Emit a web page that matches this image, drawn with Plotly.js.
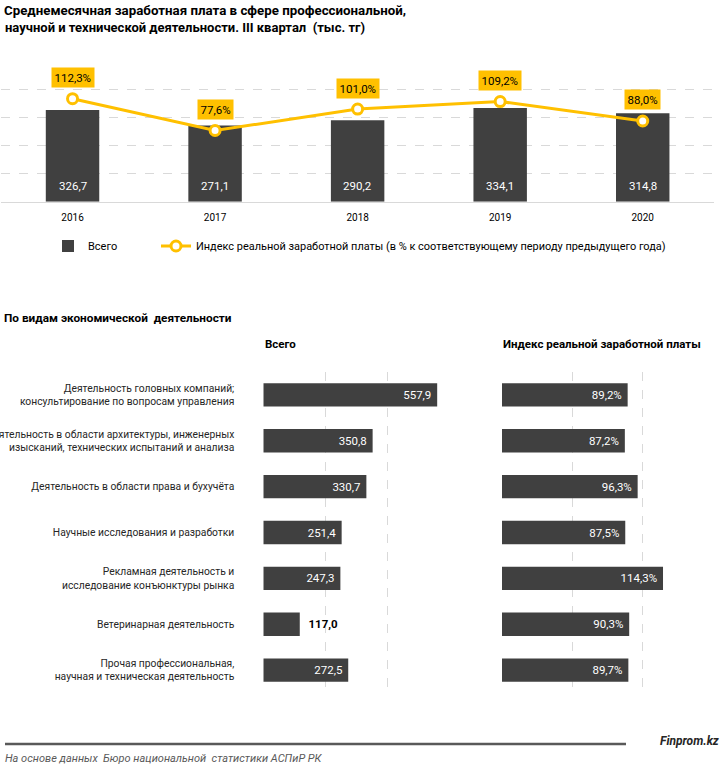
<!DOCTYPE html>
<html>
<head>
<meta charset="utf-8">
<script src="https://cdn.plot.ly/plotly-3.0.1.min.js"></script>
<style>html,body{margin:0;padding:0;background:#fff;overflow:hidden}#chart{width:722px;height:767px}</style>
</head>
<body>
<div id="chart"></div>
<script>
// ---- data ----
const years = ['2016', '2017', '2018', '2019', '2020'];
const totalWage = [326.7, 271.1, 290.2, 334.1, 314.8];
const realIndex = [112.3, 77.6, 101.0, 109.2, 88.0];

const activities = [
  'Деятельность головных компаний;<br>консультирование по вопросам управления',
  'Деятельность в области архитектуры, инженерных<br>изысканий, технических испытаний и анализа',
  'Деятельность в области права и бухучёта',
  'Научные исследования и разработки',
  'Рекламная деятельность и<br>исследование конъюнктуры рынка',
  'Ветеринарная деятельность',
  'Прочая профессиональная,<br>научная и техническая деятельность'
];
const activityWage = [557.9, 350.8, 330.7, 251.4, 247.3, 117.0, 272.5];
const activityIndex = [89.2, 87.2, 96.3, 87.5, 114.3, 90.3, 89.7];

const seriesNames = ['Всего', 'Индекс реальной заработной платы (в % к соответствующему периоду предыдущего года)'];

// ---- helpers ----
const W = 722, H = 767;
const px = v => v / W;
const py = v => 1 - v / H;
const fmt = v => v.toFixed(1).replace('.', ',');
const FONT = 'Roboto, "Liberation Sans", Arial, sans-serif';
const DARK = '#404040';
const YEL = '#FFC000';
const GRID = '#D9D9D9';
const NB = '\u00a0';

const wageOutside = activityWage.map(v => v < 150);

const traces = [
  {
    type: 'bar', name: seriesNames[0], x: years, y: totalWage,
    xaxis: 'x', yaxis: 'y', width: 0.375,
    marker: {color: DARK},
    hoverinfo: 'none', legend: 'legend'
  },
  {
    type: 'scatter', mode: 'lines+markers', name: seriesNames[1], x: years, y: realIndex,
    xaxis: 'x', yaxis: 'y2',
    line: {color: YEL, width: 3},
    marker: {color: '#ffffff', size: 10, line: {color: YEL, width: 3}},
    hoverinfo: 'none', legend: 'legend2'
  },
  {
    type: 'bar', orientation: 'h', x: activityWage, y: activities,
    xaxis: 'x3', yaxis: 'y3', width: 0.51, showlegend: false,
    marker: {color: DARK},
    text: activityWage.map((v, i) => wageOutside[i] ? NB + NB + fmt(v) : fmt(v) + NB),
    textposition: wageOutside.map(o => o ? 'outside' : 'inside'),
    insidetextanchor: 'end',
    insidetextfont: {family: FONT, size: 11.5, color: '#ffffff'},
    outsidetextfont: {family: FONT, size: 11.5, color: '#000000', weight: 'bold'},
    cliponaxis: false, hoverinfo: 'none'
  },
  {
    type: 'bar', orientation: 'h', x: activityIndex, y: activities,
    xaxis: 'x4', yaxis: 'y4', width: 0.51, showlegend: false,
    marker: {color: DARK},
    text: activityIndex.map(v => fmt(v) + '%' + NB),
    textposition: 'inside', insidetextanchor: 'end',
    insidetextfont: {family: FONT, size: 11.5, color: '#ffffff'},
    cliponaxis: false, hoverinfo: 'none'
  }
];

// value labels near the base of the top bars (category axis -> serial index)
const annotations = totalWage.map((v, i) => ({
  x: i, y: 0, xref: 'x', yref: 'y', yanchor: 'bottom', yshift: 7,
  text: fmt(v), showarrow: false,
  font: {family: FONT, size: 11.5, color: '#ffffff'}
}));

// labels above the line points
realIndex.forEach((v, i) => annotations.push({
  x: i, y: v, xref: 'x', yref: 'y2',
  text: fmt(v) + '%', showarrow: false, yshift: 21,
  bgcolor: YEL, borderpad: 2.5,
  font: {family: FONT, size: 11.5, color: '#000000'}
}));

annotations.push(
  {xref: 'paper', yref: 'paper', x: px(3), y: py(28), xanchor: 'left', yanchor: 'middle', showarrow: false,
   text: '<b>научной и технической деятельности. III квартал  (тыс. тг)</b>', font: {family: FONT, size: 13, color: '#000'}},
  {xref: 'paper', yref: 'paper', x: px(2), y: py(318), xanchor: 'left', yanchor: 'middle', showarrow: false,
   text: '<b>По видам экономической  деятельности</b>', font: {family: FONT, size: 11.8, color: '#000'}},
  {xref: 'paper', yref: 'paper', x: px(263), y: py(344), xanchor: 'left', yanchor: 'middle', showarrow: false,
   text: '<b>Всего</b>', font: {family: FONT, size: 11.5, color: '#000'}},
  {xref: 'paper', yref: 'paper', x: px(501), y: py(344), xanchor: 'left', yanchor: 'middle', showarrow: false,
   text: '<b>Индекс реальной заработной платы</b>', font: {family: FONT, size: 11.5, color: '#000'}},
  {xref: 'paper', yref: 'paper', x: px(721), y: py(741), xanchor: 'right', yanchor: 'middle', showarrow: false,
   text: '<b><i>Finprom.kz</i></b>', font: {family: FONT, size: 12, color: '#262626'}},
  {xref: 'paper', yref: 'paper', x: px(3), y: py(758), xanchor: 'left', yanchor: 'middle', showarrow: false,
   text: '<i>На основе данных  Бюро национальной  статистики АСПиР РК</i>', font: {family: FONT, size: 11, color: '#595959'}}
);

const hiddenAxis = {showticklabels: false, showgrid: false, zeroline: false, showline: false, ticks: '', fixedrange: true};

const layout = {
  width: W, height: H,
  margin: {l: 0, r: 0, t: 0, b: 0, pad: 0, autoexpand: false},
  paper_bgcolor: '#ffffff', plot_bgcolor: 'rgba(0,0,0,0)',
  font: {family: FONT, color: '#000'},
  title: {
    text: '<b>Среднемесячная заработная плата в сфере профессиональной,</b>',
    x: px(4), xanchor: 'left', y: py(10), yanchor: 'middle', automargin: false,
    font: {family: FONT, size: 13.3, color: '#000'}
  },
  showlegend: true,
  legend: {
    orientation: 'h', x: px(48), y: py(246), xanchor: 'left', yanchor: 'middle',
    font: {family: FONT, size: 11, color: '#000'}, bgcolor: 'rgba(0,0,0,0)'
  },
  legend2: {
    orientation: 'h', x: px(156), y: py(246), xanchor: 'left', yanchor: 'middle',
    font: {family: FONT, size: 10.95, color: '#000'}, bgcolor: 'rgba(0,0,0,0)'
  },
  xaxis: {
    domain: [px(1.25), px(714)], anchor: 'y', type: 'category',
    showline: true, linecolor: GRID, linewidth: 1, ticks: '', showgrid: false,
    tickfont: {family: FONT, size: 10, color: '#000'}, ticklabelstandoff: 6, fixedrange: true
  },
  yaxis: {
    domain: [py(201.7), py(61.35)], anchor: 'x', range: [0, 500],
    tickvals: [100, 200, 300, 400], showticklabels: false, ticks: '',
    showgrid: true, gridcolor: GRID, griddash: 'dash', gridwidth: 1, zeroline: false, fixedrange: true
  },
  yaxis2: Object.assign({}, hiddenAxis, {overlaying: 'y', range: [0, 153], anchor: 'x'}),
  xaxis3: {
    domain: [px(263.3), px(450.3)], anchor: 'y3', range: [0, 600],
    tickvals: [0, 200, 400, 600], showticklabels: false, ticks: '',
    showgrid: true, gridcolor: GRID, griddash: 'dash', gridwidth: 1, zeroline: false, showline: false, fixedrange: true
  },
  yaxis3: {
    domain: [py(693), py(372)], anchor: 'x3', type: 'category', autorange: 'reversed',
    ticks: '', showgrid: false, zeroline: false, showline: false, automargin: false,
    ticklabelstandoff: 28, tickfont: {family: FONT, size: 10.3, color: '#262626'}, fixedrange: true
  },
  xaxis4: {
    domain: [px(502), px(713.3)], anchor: 'y4', range: [0, 150],
    tickvals: [0, 50, 100, 150], showticklabels: false, ticks: '',
    showgrid: true, gridcolor: GRID, griddash: 'dash', gridwidth: 1, zeroline: false, showline: false, fixedrange: true
  },
  yaxis4: Object.assign({}, hiddenAxis, {domain: [py(693), py(372)], anchor: 'x4', type: 'category', autorange: 'reversed'}),
  shapes: [
    {type: 'line', xref: 'paper', yref: 'paper', x0: px(5), x1: px(626), y0: py(744), y1: py(744),
     line: {color: '#595959', width: 2.5}}
  ],
  annotations: annotations
};

Plotly.newPlot('chart', traces, layout, {displayModeBar: false, staticPlot: true});
</script>
</body>
</html>
